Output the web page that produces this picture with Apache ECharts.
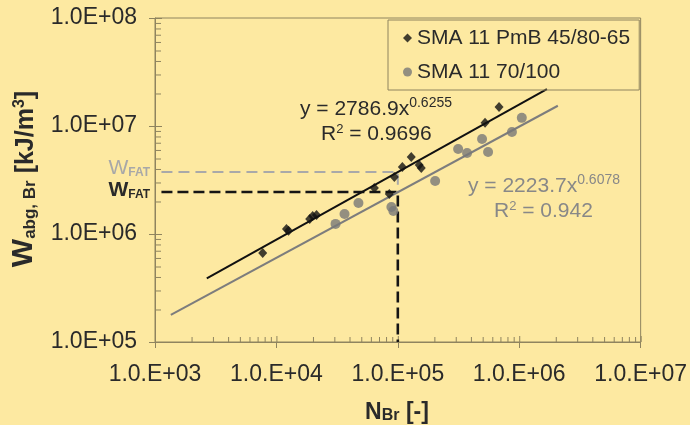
<!DOCTYPE html>
<html><head><meta charset="utf-8">
<script src="https://cdn.jsdelivr.net/npm/echarts@6/dist/echarts.min.js"></script>
<style>html,body{margin:0;padding:0;background:#FDE9A1}#c{width:690px;height:425px}</style>
</head><body><div id="c"></div>
<script>
// ---- data ----
const pmbName = 'SMA 11 PmB 45/80-65';
const b70Name = 'SMA 11 70/100';
const pmbN = [7.71e3, 1.21e4, 1.26e4, 1.88e4, 1.99e4, 2.14e4, 6.41e4, 8.51e4, 9.36e4, 1.09e5, 1.29e5, 1.50e5, 1.56e5, 5.23e5, 6.82e5];
const pmbW = [6.67e5, 1.11e6, 1.07e6, 1.38e6, 1.47e6, 1.50e6, 2.67e6, 2.35e6, 3.37e6, 4.17e6, 5.16e6, 4.35e6, 4.08e6, 1.07e7, 1.50e7];
const b70N = [3.07e4, 3.64e4, 4.74e4, 8.85e4, 9.19e4, 2.03e5, 3.14e5, 3.72e5, 4.94e5, 5.54e5, 8.71e5, 1.05e6];
const b70W = [1.24e6, 1.53e6, 1.94e6, 1.78e6, 1.63e6, 3.10e6, 6.12e6, 5.62e6, 7.58e6, 5.74e6, 8.80e6, 1.19e7];
const pmbTrendN = [2.67e3, 1.69e6];
const pmbTrendW = [3.88e5, 2.19e7];
const b70TrendN = [1.35e3, 2.08e6];
const b70TrendW = [1.78e5, 1.54e7];
const wfatPmbN = [1.13e3, 1e5, 1e5];
const wfatPmbW = [2.45e6, 2.45e6, 1e5];
const wfatB70N = [1.13e3, 1e5, 1e5];
const wfatB70W = [3.75e6, 3.75e6, 2.45e6];
const xTickValues = [1e3, 1e4, 1e5, 1e6, 1e7];
const xTickLabels = ['1.0.E+03', '1.0.E+04', '1.0.E+05', '1.0.E+06', '1.0.E+07'];
const yTickValues = [1e5, 1e6, 1e7, 1e8];
const yTickLabels = ['1.0E+05', '1.0E+06', '1.0E+07', '1.0E+08'];
const xMinorTicks = [2e3,3e3,4e3,5e3,6e3,7e3,8e3,9e3, 2e4,3e4,4e4,5e4,6e4,7e4,8e4,9e4, 2e5,3e5,4e5,5e5,6e5,7e5,8e5,9e5, 2e6,3e6,4e6,5e6,6e6,7e6,8e6,9e6];
const yMinorTicks = [2e5,3e5,4e5,5e5,6e5,7e5,8e5,9e5, 2e6,3e6,4e6,5e6,6e6,7e6,8e6,9e6, 2e7,3e7,4e7,5e7,6e7,7e7,8e7,9e7];
const eqPmb = ['y = 2786.9x', '0.6255', '0.9696'];
const eqB70 = ['y = 2223.7x', '0.6078', '0.942'];

// ---- styles ----
const AXIS = '#8f845f';
const TXT = '#2a2a2a';
const GRAY = '#787878';
const FONT = '"Liberation Sans", Arial, sans-serif';

const chart = echarts.init(document.getElementById('c'), null, {renderer: 'canvas'});

function tickSeries(vals, dir, len) {
  return {
    type: 'custom', silent: true, z: 1, clip: false,
    data: vals.map(v => dir === 'x' ? [v, yTickValues[0]] : [xTickValues[0], v]),
    renderItem: function (params, api) {
      const p = api.coord([api.value(0), api.value(1)]);
      const shape = dir === 'x'
        ? {x1: p[0] + 0.5, y1: p[1], x2: p[0] + 0.5, y2: p[1] - len}
        : {x1: p[0], y1: p[1] + 0.5, x2: p[0] + len, y2: p[1] + 0.5};
      return {type: 'line', shape: shape, style: {stroke: AXIS, lineWidth: 1}};
    }
  };
}

function pairs(a, b) { return a.map((v, i) => [v, b[i]]); }

const option = {
  backgroundColor: '#FDE9A1',
  animation: false,
  textStyle: {fontFamily: FONT},
  grid: {left: 155, right: 48, top: 18, bottom: 83, show: true, borderColor: AXIS, borderWidth: 1, backgroundColor: 'transparent'},
  legend: {
    left: 388, top: 20, orient: 'vertical',
    padding: [6, 9, 6, 15], itemGap: 10, itemWidth: 9, itemHeight: 9,
    borderColor: AXIS, borderWidth: 1, selectedMode: false,
    textStyle: {fontSize: 21, color: TXT, fontFamily: FONT, lineHeight: 24},
    data: [{name: pmbName, icon: 'diamond'}, {name: b70Name, icon: 'circle'}]
  },
  xAxis: {
    type: 'log', logBase: 10, min: xTickValues[0], max: xTickValues[xTickValues.length - 1],
    axisLine: {show: true, lineStyle: {color: AXIS, width: 1}},
    axisTick: {show: true, inside: false, length: 6, lineStyle: {color: AXIS}},
    splitLine: {show: false},
    axisLabel: {
      margin: 21, fontSize: 23, color: TXT, fontFamily: FONT,
      formatter: v => xTickLabels[Math.round(Math.log10(v)) - 3] || ''
    }
  },
  yAxis: {
    type: 'log', logBase: 10, min: yTickValues[0], max: yTickValues[yTickValues.length - 1],
    axisLine: {show: true, lineStyle: {color: AXIS, width: 1}},
    axisTick: {show: true, inside: false, length: 6, lineStyle: {color: AXIS}},
    splitLine: {show: false},
    axisLabel: {
      margin: 18, fontSize: 23, color: TXT, fontFamily: FONT,
      formatter: v => yTickLabels[Math.round(Math.log10(v)) - 5] || ''
    }
  },
  series: [
    tickSeries(xMinorTicks, 'x', 5),
    tickSeries(xTickValues, 'x', 6),
    tickSeries(yMinorTicks, 'y', 6),
    tickSeries(yTickValues, 'y', 7),
    {
      type: 'line', name: 'wfatB70', data: pairs(wfatB70N, wfatB70W), symbol: 'none', z: 2,
      lineStyle: {color: '#a9a9a9', width: 2, type: [11, 6]}, silent: true
    },
    {
      type: 'line', name: 'wfatPmb', data: pairs(wfatPmbN, wfatPmbW), symbol: 'none', z: 2,
      lineStyle: {color: '#151515', width: 2.6, type: [11, 5]}, silent: true
    },
    {
      type: 'line', name: 'trendB70', data: pairs(b70TrendN, b70TrendW), symbol: 'none', z: 3,
      lineStyle: {color: '#7d7d7d', width: 2}, silent: true
    },
    {
      type: 'line', name: 'trendPmb', data: pairs(pmbTrendN, pmbTrendW), symbol: 'none', z: 3,
      lineStyle: {color: '#111111', width: 2}, silent: true
    },
    {
      type: 'scatter', name: b70Name, data: pairs(b70N, b70W), symbol: 'circle', symbolSize: 10, z: 4,
      itemStyle: {color: GRAY}
    },
    {
      type: 'scatter', name: pmbName, data: pairs(pmbN, pmbW), symbol: 'diamond', symbolSize: [9, 10], z: 5,
      itemStyle: {color: '#111111'}
    }
  ],
  graphic: [
    { // y axis title
      type: 'text', x: 22, y: 179, rotation: Math.PI / 2,
      style: {
        text: '{w|W}{s|abg, Br}{u| [kJ/m}{p|3}{u|]}',
        align: 'center', verticalAlign: 'middle', fill: TXT,
        rich: {
          w: {fontSize: 30, fontWeight: 'bold', fontFamily: FONT, fill: TXT, verticalAlign: 'bottom', lineHeight: 34},
          s: {fontSize: 17, fontWeight: 'bold', fontFamily: FONT, fill: TXT, verticalAlign: 'bottom', lineHeight: 12},
          u: {fontSize: 25, fontWeight: 'bold', fontFamily: FONT, fill: TXT, verticalAlign: 'bottom', lineHeight: 30},
          p: {fontSize: 16, fontWeight: 'bold', fontFamily: FONT, fill: TXT, verticalAlign: 'top', lineHeight: 16, padding: [7, 0, 0, 0]}
        }
      }
    },
    { // x axis title
      type: 'text', x: 397, y: 410,
      style: {
        text: '{n|N}{s|Br}{n| [-]}',
        align: 'center', verticalAlign: 'middle', fill: TXT,
        rich: {
          n: {fontSize: 23, fontWeight: 'bold', fontFamily: FONT, fill: TXT, verticalAlign: 'bottom', lineHeight: 28},
          s: {fontSize: 16, fontWeight: 'bold', fontFamily: FONT, fill: TXT, verticalAlign: 'bottom', lineHeight: 10}
        }
      }
    },
    { // W_FAT gray
      type: 'text', x: 150, y: 167,
      style: {
        text: '{w|W}{s|FAT}', align: 'right', verticalAlign: 'middle',
        rich: {
          w: {fontSize: 21, fontFamily: FONT, fill: '#a8a8a8', verticalAlign: 'bottom', lineHeight: 24},
          s: {fontSize: 12, fontWeight: 'bold', fontFamily: FONT, fill: '#a8a8a8', verticalAlign: 'bottom', lineHeight: 8}
        }
      }
    },
    { // W_FAT black
      type: 'text', x: 150, y: 189,
      style: {
        text: '{w|W}{s|FAT}', align: 'right', verticalAlign: 'middle',
        rich: {
          w: {fontSize: 21, fontWeight: 'bold', fontFamily: FONT, fill: TXT, verticalAlign: 'bottom', lineHeight: 24},
          s: {fontSize: 12, fontWeight: 'bold', fontFamily: FONT, fill: TXT, verticalAlign: 'bottom', lineHeight: 8}
        }
      }
    },
    { // black equation
      type: 'text', x: 300, y: 108,
      style: {
        text: '{m|' + eqPmb[0] + '}{p|' + eqPmb[1] + '}', align: 'left', verticalAlign: 'middle',
        rich: {
          m: {fontSize: 21, fontFamily: FONT, fill: TXT, verticalAlign: 'bottom', lineHeight: 24},
          p: {fontSize: 14, fontFamily: FONT, fill: TXT, verticalAlign: 'top', lineHeight: 12}
        }
      }
    },
    {
      type: 'text', x: 321, y: 133,
      style: {
        text: '{m|R}{p|2}{m| = ' + eqPmb[2] + '}', align: 'left', verticalAlign: 'middle',
        rich: {
          m: {fontSize: 21, fontFamily: FONT, fill: TXT, verticalAlign: 'bottom', lineHeight: 24},
          p: {fontSize: 13, fontFamily: FONT, fill: TXT, verticalAlign: 'top', lineHeight: 12, padding: [2, 0, 0, 0]}
        }
      }
    },
    { // gray equation
      type: 'text', x: 468, y: 185,
      style: {
        text: '{m|' + eqB70[0] + '}{p|' + eqB70[1] + '}', align: 'left', verticalAlign: 'middle',
        rich: {
          m: {fontSize: 21, fontFamily: FONT, fill: '#888888', verticalAlign: 'bottom', lineHeight: 24},
          p: {fontSize: 14, fontFamily: FONT, fill: '#888888', verticalAlign: 'top', lineHeight: 12}
        }
      }
    },
    {
      type: 'text', x: 494, y: 210,
      style: {
        text: '{m|R}{p|2}{m| = ' + eqB70[2] + '}', align: 'left', verticalAlign: 'middle',
        rich: {
          m: {fontSize: 21, fontFamily: FONT, fill: '#888888', verticalAlign: 'bottom', lineHeight: 24},
          p: {fontSize: 13, fontFamily: FONT, fill: '#888888', verticalAlign: 'top', lineHeight: 12, padding: [2, 0, 0, 0]}
        }
      }
    }
  ]
};
chart.setOption(option);
</script></body></html>
